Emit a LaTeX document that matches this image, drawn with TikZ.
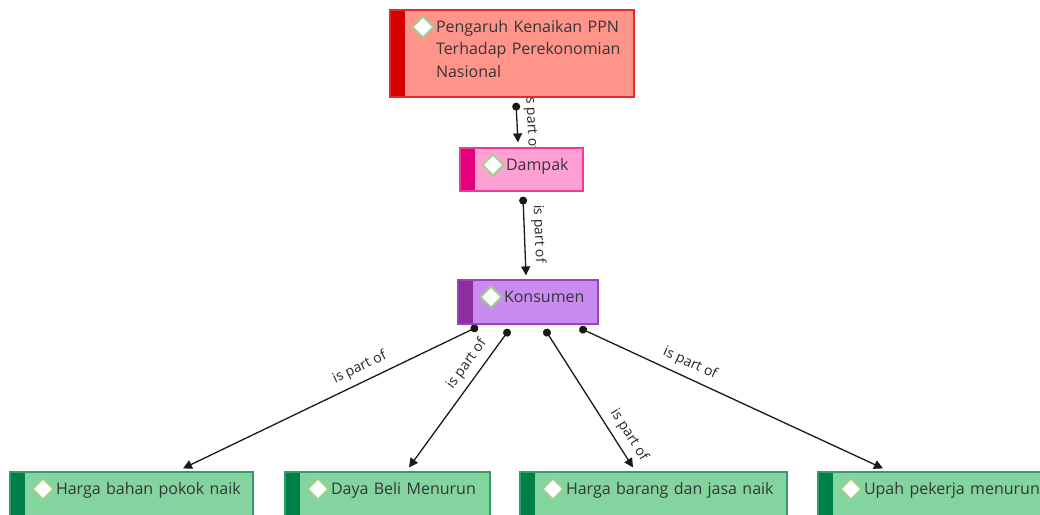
\documentclass[tikz,border=0pt]{standalone}
\usepackage{fontspec}
\newfontfamily\uifont{Open Sans}
\usetikzlibrary{arrows.meta,backgrounds}
\definecolor{txtGray}{HTML}{363636}
\definecolor{lblGray}{HTML}{262626}
\definecolor{iconGreen}{HTML}{9BD08C}
\definecolor{rootFill}{HTML}{FF958A}
\definecolor{rootLine}{HTML}{E22A2A}
\definecolor{rootBar}{HTML}{D60000}
\definecolor{pinkFill}{HTML}{FF9FD4}
\definecolor{pinkLine}{HTML}{EC3C9A}
\definecolor{pinkBar}{HTML}{E6007E}
\definecolor{purpFill}{HTML}{C98BF0}
\definecolor{purpLine}{HTML}{A040C0}
\definecolor{purpBar}{HTML}{8B2F9F}
\definecolor{grnFill}{HTML}{83D49E}
\definecolor{grnLine}{HTML}{2E9E6A}
\definecolor{grnBar}{HTML}{008049}
\tikzset{
	topic/.style n args={4}{rectangle, fill=#1, draw=#2, line width=1.2pt,
		inner sep=0pt, minimum width=#4, text width=#4,
		align=left, text=txtGray, text height=22pt,
		font=\uifont\fontsize{16}{22.5}\selectfont,
		execute at begin node={\leftskip=46pt},
		path picture={
			\fill[#3] (path picture bounding box.north west) rectangle ([xshift=15pt]path picture bounding box.south west);
			\draw[fill=white, draw=iconGreen, line width=2pt] ([xshift=22.5pt,yshift=-17pt]path picture bounding box.north west)
				-- ++(10.5pt,10.5pt) -- ++(10.5pt,-10.5pt) -- ++(-10.5pt,-10.5pt) -- cycle;
		}},
	partof/.style={{Circle[length=8pt]}-{Triangle[length=9pt,width=9pt]}, line width=1.3pt, draw=black!90},
	lbl/.style={sloped, above, inner sep=6.5pt, text=lblGray, font=\uifont\fontsize{14}{16}\selectfont}
}

\begin{document}
\begin{tikzpicture}[x=1pt, y=-1pt]
	\path[use as bounding box, clip] (0,0) rectangle (1040,514);
	\node[topic={rootFill}{rootLine}{rootBar}{244pt}, minimum height=87pt, text depth=65pt] (root) at (512, 53.5) {Pengaruh Kenaikan PPN\\Terhadap Perekonomian\\Nasional};
	\node[topic={pinkFill}{pinkLine}{pinkBar}{123pt}, minimum height=43pt, text depth=21pt] (dampak) at (521.5, 169.5) {Dampak};
	\node[topic={purpFill}{purpLine}{purpBar}{140pt}, minimum height=44pt, text depth=22pt] (konsumen) at (528, 302) {Konsumen};
	
	\node[topic={grnFill}{grnLine}{grnBar}{243pt}, minimum height=44pt, text depth=22pt] (bahan) at (131.5, 494) {Harga bahan pokok naik};
	\node[topic={grnFill}{grnLine}{grnBar}{205pt}, minimum height=44pt, text depth=22pt] (dayabeli) at (387.5, 494) {Daya Beli Menurun};
	\node[topic={grnFill}{grnLine}{grnBar}{267pt}, minimum height=44pt, text depth=22pt] (barang) at (653.5, 494) {Harga barang dan jasa naik};
	\node[topic={grnFill}{grnLine}{grnBar}{250pt}, minimum height=44pt, text depth=22pt] (upah) at (943, 494) {Upah pekerja menurun};
	
	\begin{scope}[on background layer]
		\draw[partof] ([shift={(4pt,-5pt)}]root.south) -- node[lbl, pos=0.52] {is part of} ([shift={(-3.5pt,5pt)}]dampak.north);
		\draw[partof] ([shift={(1.5pt,-5pt)}]dampak.south) -- node[lbl, pos=0.48] {is part of} ([shift={(-2pt,4pt)}]konsumen.north);
		\draw[partof] ([shift={(-50pt,-2pt)}]konsumen.south) -- node[lbl, pos=0.38] {is part of} ([shift={(51.5pt,3pt)}]bahan.north);
		\draw[partof] ([shift={(-18.6pt,-4.8pt)}]konsumen.south) -- node[lbl, pos=0.31] {is part of} ([shift={(21.5pt,4pt)}]dayabeli.north);
		\draw[partof] ([shift={(16.8pt,-4.6pt)}]konsumen.south) -- node[lbl, pos=0.82] {is part of} ([shift={(-20.5pt,4pt)}]barang.north);
		\draw[partof] ([shift={(51.4pt,-3.3pt)}]konsumen.south) -- node[lbl, pos=0.345] {is part of} ([shift={(-60pt,3pt)}]upah.north);
	\end{scope}
\end{tikzpicture}
\end{document}
